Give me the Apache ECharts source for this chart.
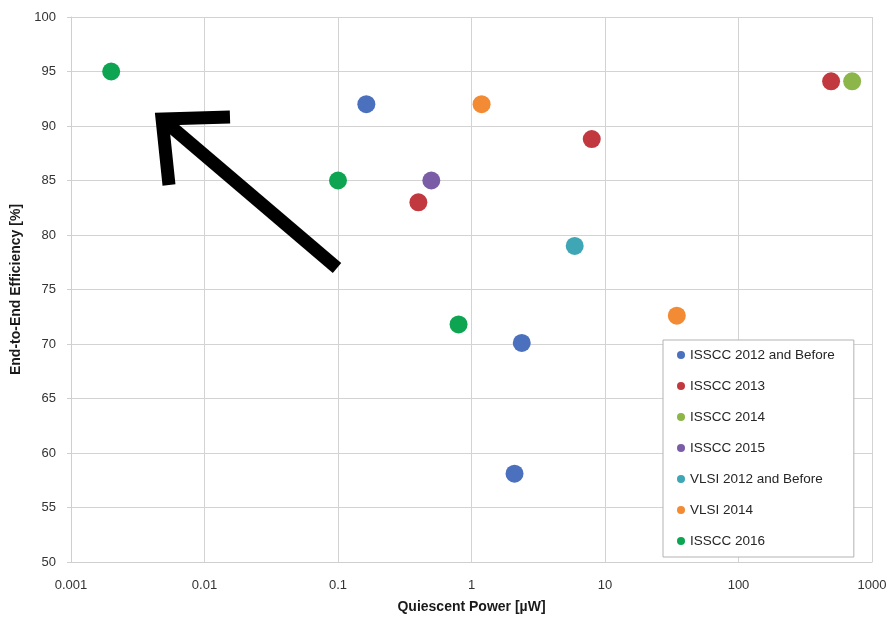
<!DOCTYPE html>
<html>
<head>
<meta charset="utf-8">
<script src="https://cdn.jsdelivr.net/npm/echarts@6/dist/echarts.min.js"></script>
<style>
  html, body { margin: 0; padding: 0; background: #fff; }
  #chart { width: 890px; height: 618px; }
</style>
</head>
<body>
<div id="chart"></div>
<script>
// Quiescent power [µW] vs. end-to-end efficiency [%] per conference group
const groupNames = [
  'ISSCC 2012 and Before',
  'ISSCC 2013',
  'ISSCC 2014',
  'ISSCC 2015',
  'VLSI 2012 and Before',
  'VLSI 2014',
  'ISSCC 2016'
];
const groupColors = ['#4A70BE', '#C2383F', '#8CB54A', '#7A5DA6', '#3EA6B4', '#F38B35', '#0DA552'];

const isscc2012Before = [[0.163, 92], [2.38, 70.1], [2.1, 58.1]];
const isscc2013 = [[0.4, 83], [7.96, 88.8], [494, 94.1]];
const isscc2014 = [[710, 94.1]];
const isscc2015 = [[0.5, 85]];
const vlsi2012Before = [[5.93, 79]];
const vlsi2014 = [[1.19, 92], [34.5, 72.6]];
const isscc2016 = [[0.002, 95], [0.1, 85], [0.8, 71.8]];

const groupData = [isscc2012Before, isscc2013, isscc2014, isscc2015, vlsi2012Before, vlsi2014, isscc2016];

const xTickLabels = ['0.001', '0.01', '0.1', '1', '10', '100', '1000'];

// Annotation arrow pointing toward low power / high efficiency (data coordinates)
const arrowHead = [[0.01552, 90.83], [0.00481, 90.64], [0.00542, 84.59]];
const arrowShaft = [[0.00481, 90.64], [0.0983, 76.97]];

const fontFamily = '"Liberation Sans", Arial, sans-serif';

const arrowStyle = { color: '#000', width: 13, cap: 'butt', join: 'miter', miterLimit: 10 };

const series = [
  {
    name: 'arrowHead', type: 'line', data: arrowHead, symbol: 'none', silent: true,
    lineStyle: arrowStyle, z: 1
  },
  {
    name: 'arrowShaft', type: 'line', data: arrowShaft, symbol: 'none', silent: true,
    lineStyle: arrowStyle, z: 1
  }
].concat(groupNames.map((name, i) => ({
  name: name,
  type: 'scatter',
  data: groupData[i],
  symbol: 'circle',
  symbolSize: 18,
  itemStyle: { color: groupColors[i], opacity: 1 },
  z: 3
})));

const chart = echarts.init(document.getElementById('chart'), null, { renderer: 'canvas' });
chart.setOption({
  animation: false,
  backgroundColor: '#fff',
  textStyle: { fontFamily: fontFamily },
  grid: { left: 71, right: 18, top: 17, bottom: 56, containLabel: false, outerBoundsMode: 'none' },
  xAxis: {
    type: 'log',
    logBase: 10,
    min: 0.001,
    max: 1000,
    name: 'Quiescent Power [µW]',
    nameLocation: 'middle',
    nameGap: 38,
    nameTextStyle: { fontSize: 14, fontWeight: 'bold', color: '#1a1a1a', fontFamily: fontFamily },
    axisLine: { show: true, lineStyle: { color: '#cfcfcf', width: 1 } },
    axisTick: { show: false },
    axisLabel: {
      fontSize: 13, color: '#333', margin: 17, fontFamily: fontFamily,
      formatter: (v, idx) => xTickLabels[idx] !== undefined ? xTickLabels[idx] : ''
    },
    splitLine: { show: true, lineStyle: { color: '#d3d3d3', width: 1 } },
    minorSplitLine: { show: false }
  },
  yAxis: {
    type: 'value',
    min: 50,
    max: 100,
    interval: 5,
    name: 'End-to-End Efficiency [%]',
    nameLocation: 'middle',
    nameGap: 41,
    nameTextStyle: { fontSize: 14, fontWeight: 'bold', color: '#1a1a1a', fontFamily: fontFamily },
    axisLine: { show: true, lineStyle: { color: '#cfcfcf', width: 1 } },
    axisTick: { show: true, length: 4, lineStyle: { color: '#cfcfcf' } },
    axisLabel: { fontSize: 13, color: '#333', margin: 15, fontFamily: fontFamily },
    splitLine: { show: true, lineStyle: { color: '#d3d3d3', width: 1 } }
  },
  legend: {
    data: groupNames,
    orient: 'vertical',
    left: 663,
    top: 340,
    icon: 'circle',
    itemWidth: 8,
    itemHeight: 8,
    itemGap: 17,
    padding: [8, 19, 9, 14],
    backgroundColor: '#fff',
    borderColor: '#b3b3b3',
    borderWidth: 1,
    borderRadius: 0,
    itemStyle: { opacity: 1 },
    textStyle: { fontSize: 13.5, lineHeight: 14, color: '#262626', fontFamily: fontFamily }
  },
  series: series
});
</script>
</body>
</html>
